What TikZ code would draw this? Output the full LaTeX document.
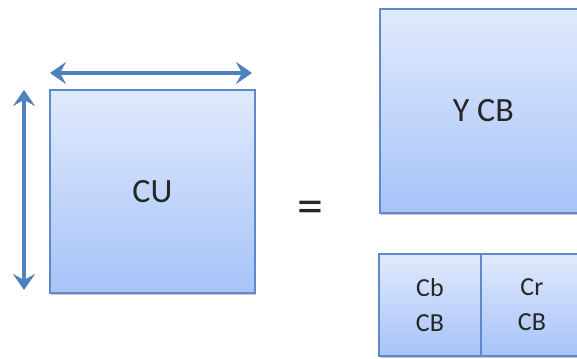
\documentclass[tikz,border=0pt]{standalone}
\usepackage{fontspec}
\setmainfont{Carlito}
\usetikzlibrary{arrows.meta,shadows}
\definecolor{blocktop}{HTML}{E0EAFC}
\definecolor{blockbot}{HTML}{A7C3F8}
\definecolor{blockedge}{HTML}{5E8ACB}
\definecolor{dimblue}{HTML}{4F81BD}
\tikzset{
  block/.style={draw=blockedge, line width=1.8pt, top color=blocktop, bottom color=blockbot,
    inner sep=0pt, anchor=north west, text=black!85,
    drop shadow={shadow xshift=1.5pt, shadow yshift=-2.5pt, opacity=0.35, fill=black!60}},
  dimarrow/.style={draw=dimblue, line width=3.2pt,
    {Stealth[length=16pt,width=22pt,inset=6pt]}-{Stealth[length=16pt,width=22pt,inset=6pt]}}
}
\begin{document}
\begin{tikzpicture}[x=1pt,y=-1pt]
  \useasboundingbox (0,0) rectangle (577,358);
  % coding unit with its size markers
  \node[block, minimum width=205pt, minimum height=203pt, font=\fontsize{34}{36}\selectfont] (cu) at (49,89) {CU};
  \coordinate (hl) at (50,73);
  \coordinate (hr) at (252,73);
  \coordinate (vt) at (24,90);
  \coordinate (vb) at (24,290);
  \draw[dimarrow] (hl) -- (hr);
  \draw[dimarrow] (vt) -- (vb);
  % equals sign
  \node[font=\fontsize{52}{54}\selectfont, text=black!85, inner sep=0pt] (eq) at (310.5,212) {=};
  % luma coding block
  \node[block, minimum width=207pt, minimum height=204pt, font=\fontsize{34}{36}\selectfont] (ycb) at (379,8) {Y CB};
  % chroma coding blocks
  \node[block, minimum width=102pt, minimum height=102pt, align=center, font=\fontsize{26}{35}\selectfont] (cb) at (378,253) {Cb\\CB};
  \node[block, minimum width=102pt, minimum height=102pt, align=center, font=\fontsize{26}{35}\selectfont] (cr) at (480,253) {Cr\\CB};
\end{tikzpicture}
\end{document}
